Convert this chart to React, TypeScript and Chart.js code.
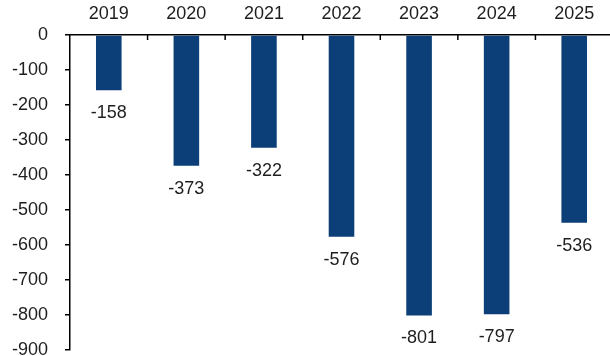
import React, { useEffect, useRef } from "react";
import { Chart, registerables } from "chart.js";

Chart.register(...registerables);

const categories = ["2019", "2020", "2021", "2022", "2023", "2024", "2025"];
const values = [-158, -373, -322, -576, -801, -797, -536];
const yMin = -900;
const yMax = 0;
const yStep = 100;

const FONT = "'Liberation Sans', Arial, sans-serif";
const BAR_COLOR = "#0c3f77";
const TEXT_COLOR = "#1e1e1e";

const labelsPlugin = {
  id: "barLabels",
  afterDatasetsDraw(chart: any) {
    const ctx = chart.ctx;
    const meta = chart.getDatasetMeta(0);
    ctx.save();
    ctx.font = `18px ${FONT}`;
    ctx.fillStyle = TEXT_COLOR;
    ctx.textAlign = "center";
    ctx.textBaseline = "top";
    meta.data.forEach((bar: any, i: number) => {
      ctx.fillText(String(values[i]), bar.x, bar.y + 14);
    });
    ctx.restore();
  },
};

const innerTicksPlugin = {
  id: "innerTicks",
  afterDraw(chart: any) {
    const ctx = chart.ctx;
    const xs = chart.scales.x;
    const top = chart.chartArea.top;
    const step = xs.getPixelForValue(1) - xs.getPixelForValue(0);
    ctx.save();
    ctx.strokeStyle = "#000";
    ctx.lineWidth = 1.5;
    for (let i = 1; i <= categories.length; i++) {
      const x = xs.getPixelForValue(i - 1) + step / 2;
      ctx.beginPath();
      ctx.moveTo(x, top);
      ctx.lineTo(x, top + 5);
      ctx.stroke();
    }
    ctx.restore();
  },
};

export default function App() {
  const ref = useRef<HTMLCanvasElement>(null);
  useEffect(() => {
    const chart = new Chart(ref.current!, {
      type: "bar",
      data: {
        labels: categories,
        datasets: [
          {
            data: values,
            backgroundColor: BAR_COLOR,
            barPercentage: 0.33,
            categoryPercentage: 1,
          },
        ],
      },
      options: {
        responsive: false,
        animation: false,
        devicePixelRatio: 1,
        layout: { padding: 0 },
        plugins: { legend: { display: false }, tooltip: { enabled: false } },
        scales: {
          x: {
            position: "top",
            grid: { drawOnChartArea: false, drawTicks: false },
            border: { display: true, color: "#000", width: 1.5 },
            ticks: { font: { family: FONT, size: 18 }, color: TEXT_COLOR, padding: 10 },
            afterFit: (s: any) => {
              s.height = 35;
            },
          },
          y: {
            min: yMin,
            max: yMax,
            grid: { drawOnChartArea: false, tickLength: 5, color: "#000", lineWidth: 1.5 },
            border: { display: true, color: "#000", width: 1.5 },
            ticks: { stepSize: yStep, font: { family: FONT, size: 18 }, color: TEXT_COLOR, padding: 17 },
            afterFit: (s: any) => {
              s.width = 70;
            },
          },
        },
      },
      plugins: [labelsPlugin, innerTicksPlugin],
    });
    return () => chart.destroy();
  }, []);
  return (
    <div style={{ position: "absolute", left: 0, top: 0, width: 610, height: 356, overflow: "hidden", background: "#fff" }}>
      <canvas ref={ref} width={613} height={378} style={{ display: "block" }} />
    </div>
  );
}
